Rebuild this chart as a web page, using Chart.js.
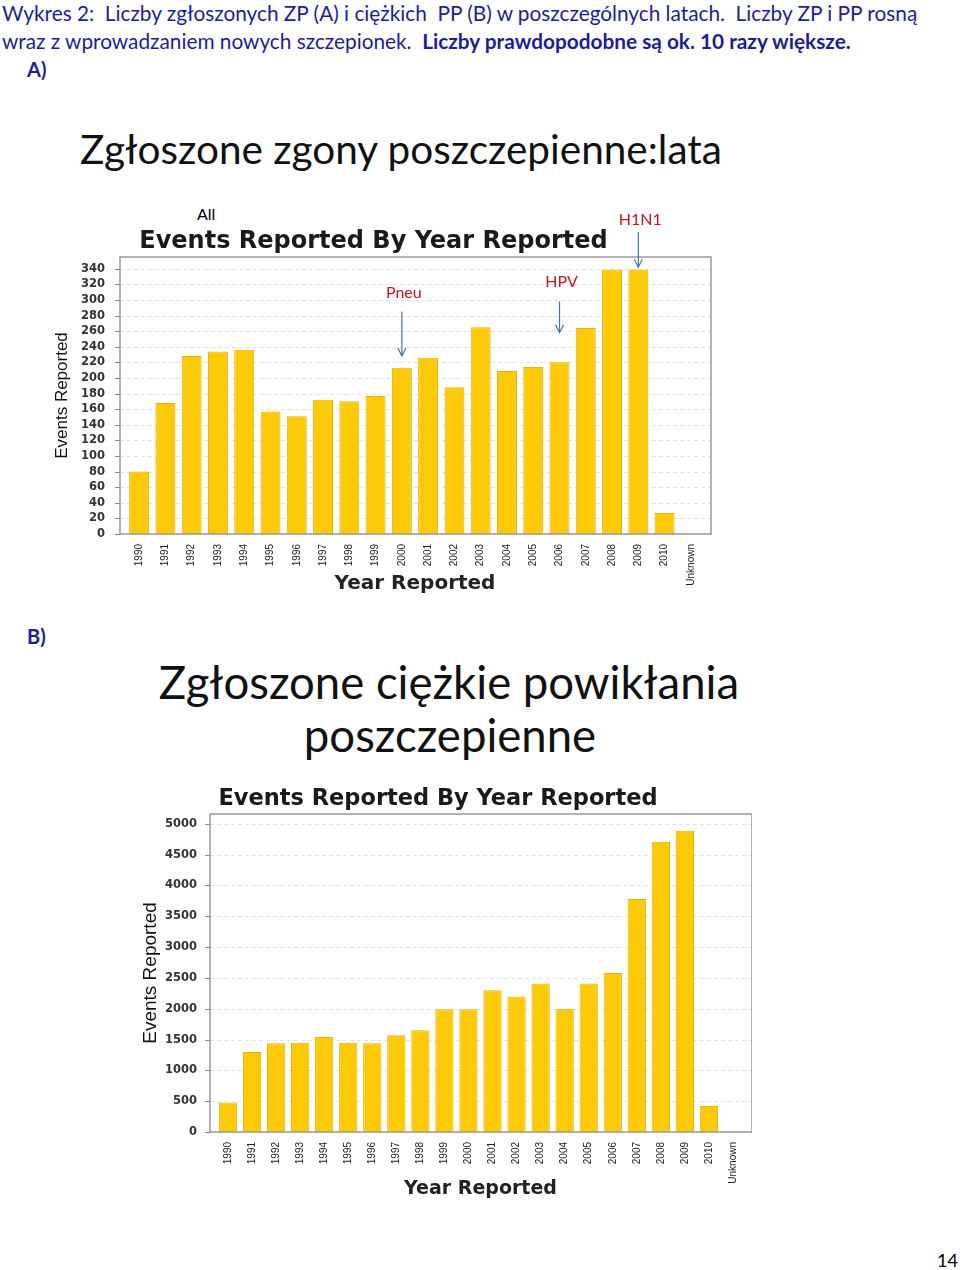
<!DOCTYPE html>
<html>
<head>
<meta charset="utf-8">
<script src="https://cdn.jsdelivr.net/npm/chart.js@4.4.1/dist/chart.umd.min.js"></script>
<style>
  body { margin: 0; background: #fff; }
  #page { position: relative; width: 960px; height: 1270px; overflow: hidden; background: #fff; }
  .hdr { position: absolute; left: 2px; font-family: Lato, "Open Sans", sans-serif; font-size: 20.8px; color: #1d1d9c; white-space: nowrap; }
  .lbl { position: absolute; font-family: Lato, sans-serif; font-weight: bold; font-size: 20px; color: #1d1d9c; }
  .big { position: absolute; font-family: Lato, "Open Sans", sans-serif; color: #111; white-space: nowrap; text-align: center; }
  .note { position: absolute; font-family: Lato, sans-serif; font-size: 16px; color: #000; }
  .box { position: absolute; }
</style>
</head>
<body>
<div id="page">
  <div class="hdr" style="top:0px">Wykres 2:&nbsp; Liczby zgłoszonych ZP (A) i ciężkich &nbsp;PP (B) w poszczególnych latach.&nbsp; Liczby ZP i PP rosną</div>
  <div class="hdr" style="top:28px">wraz z wprowadzaniem nowych szczepionek.&nbsp; <b>Liczby prawdopodobne są ok. 10 razy większe.</b></div>
  <div class="lbl" style="left:27px;top:57px">A)</div>
  <div class="big" style="left:0;width:802px;top:124px;font-size:40.5px">Zgłoszone zgony poszczepienne:lata</div>
  <div class="note" style="left:197px;top:204px">All</div>

  <div class="box" style="left:43px;top:200px;width:669px;height:400px"><canvas id="canvas"></canvas></div>

  <div class="lbl" style="left:27px;top:624px">B)</div>
  <div class="big" style="left:0;width:898px;top:654px;font-size:45.5px">Zgłoszone ciężkie powikłania</div>
  <div class="big" style="left:0;width:900px;top:707px;font-size:45.5px">poszczepienne</div>

  <div class="box" style="left:131px;top:782px;width:621px;height:422px"><canvas id="canvas2"></canvas></div>

  <div class="note" style="left:937px;top:1249px;font-size:18px">14</div>
</div>
<script>
const years = ['1990', '1991', '1992', '1993', '1994', '1995', '1996', '1997', '1998', '1999', '2000',
  '2001', '2002', '2003', '2004', '2005', '2006', '2007', '2008', '2009', '2010', 'Unknown'];

// A) zgony
const deaths = [80, 168, 228, 234, 236, 157, 151, 172, 170, 177, 213,
  226, 188, 265, 209, 214, 220, 264, 339, 339, 27, 0];
const yTicksA = [0, 20, 40, 60, 80, 100, 120, 140, 160, 180, 200, 220, 240, 260, 280, 300, 320, 340];

// B) ciezkie powiklania
const serious = [480, 1300, 1440, 1450, 1540, 1450, 1440, 1570, 1650, 1990, 1990,
  2300, 2200, 2410, 2000, 2410, 2580, 3780, 4710, 4890, 420, 0];
const yTicksB = [0, 500, 1000, 1500, 2000, 2500, 3000, 3500, 4000, 4500, 5000];

// labels with arrows on chart A (y in data units)
const notesA = [
  { text: 'Pneu', year: '2000', textY: 309, from: 285, to: 228 },
  { text: 'HPV', year: '2006', textY: 323, from: 298, to: 258 },
  { text: 'H1N1', year: '2009', textY: 402, from: 387, to: 342 }
];

const barColor = '#fdca0a';
const barEdge = '#e3b400';

// frame, dashed grid and outer tick marks like the SAS plot
const framePlugin = {
  id: 'frame',
  beforeDatasetsDraw(chart) {
    const ctx = chart.ctx;
    const a = chart.chartArea;
    const y = chart.scales.y;
    const l = a.left - 6, r = a.right + 7;
    ctx.save();
    ctx.strokeStyle = '#e2e2e2';
    ctx.lineWidth = 1;
    ctx.setLineDash([4, 3]);
    y.ticks.forEach(function (t) {
      const py = Math.round(y.getPixelForValue(t.value)) + 0.5;
      ctx.beginPath(); ctx.moveTo(l, py); ctx.lineTo(r, py); ctx.stroke();
    });
    ctx.restore();
  },
  afterDatasetsDraw(chart) {
    const ctx = chart.ctx;
    const a = chart.chartArea;
    const y = chart.scales.y;
    const l = a.left - 6, r = a.right + 7;
    ctx.save();
    ctx.strokeStyle = '#9a9a9a';
    ctx.lineWidth = 1.5;
    ctx.strokeRect(l, a.top, r - l, a.bottom - a.top);
    ctx.strokeStyle = '#888';
    ctx.lineWidth = 1;
    y.ticks.forEach(function (t) {
      const py = Math.round(y.getPixelForValue(t.value)) + 0.5;
      ctx.beginPath(); ctx.moveTo(l - 5, py); ctx.lineTo(l, py); ctx.stroke();
    });
    ctx.restore();
  }
};

const notesPlugin = {
  id: 'notes',
  afterDraw(chart) {
    const list = chart.options.plugins.notes.items || [];
    const ctx = chart.ctx;
    const x = chart.scales.x, y = chart.scales.y;
    ctx.save();
    list.forEach(function (n) {
      const px = x.getPixelForValue(years.indexOf(n.year));
      ctx.fillStyle = '#c8141e';
      ctx.font = '16px Lato, sans-serif';
      ctx.textAlign = 'center';
      ctx.textBaseline = 'middle';
      ctx.fillText(n.text, px + 2, y.getPixelForValue(n.textY));
      const y1 = y.getPixelForValue(n.from), y2 = y.getPixelForValue(n.to);
      ctx.strokeStyle = '#4d76a6';
      ctx.lineWidth = 1.2;
      ctx.beginPath();
      ctx.moveTo(px, y1); ctx.lineTo(px, y2);
      ctx.moveTo(px - 4, y2 - 8); ctx.lineTo(px, y2); ctx.lineTo(px + 4, y2 - 8);
      ctx.stroke();
    });
    ctx.restore();
  }
};

function buildChart(id, values, ticks, maxY, opts) {
  const ctx = document.getElementById(id).getContext('2d');
  return new Chart(ctx, {
    type: 'bar',
    data: {
      labels: years,
      datasets: [{
        data: values,
        backgroundColor: barColor,
        borderColor: barEdge,
        borderWidth: 1,
        barPercentage: 0.76,
        categoryPercentage: 1
      }]
    },
    options: {
      responsive: true,
      maintainAspectRatio: false,
      animation: false,
      layout: { padding: { right: opts.padRight } },
      plugins: {
        legend: { display: false },
        tooltip: { enabled: false },
        title: {
          display: true,
          text: 'Events Reported By Year Reported',
          color: '#1a1a1a',
          font: { family: 'DejaVu Sans', weight: 'bold', size: opts.titleSize, lineHeight: 1 },
          padding: { top: opts.titleTop, bottom: opts.titleBottom }
        },
        notes: { items: opts.notes }
      },
      scales: {
        x: {
          grid: { display: false },
          border: { display: false },
          ticks: {
            maxRotation: 90, minRotation: 90, autoSkip: false,
            color: '#222', padding: 2,
            font: { family: 'Liberation Sans', size: 10 }
          },
          title: {
            display: true, text: 'Year Reported', color: '#222',
            font: { family: 'DejaVu Sans', weight: 'bold', size: opts.axisSize },
            padding: { top: 0, bottom: 4 }
          },
          afterFit(scale) { scale.height = opts.xHeight; }
        },
        y: {
          min: 0, max: maxY,
          grid: { display: false },
          border: { display: false },
          afterBuildTicks(scale) { scale.ticks = ticks.map(function (v) { return { value: v }; }); },
          ticks: {
            autoSkip: false,
            color: '#333', padding: opts.tickPad,
            font: { family: 'DejaVu Sans', weight: 'bold', size: 11.5 },
            callback: function (v) { return String(v); }
          },
          title: {
            display: true, text: 'Events Reported', color: '#111',
            font: { family: 'Liberation Sans', size: opts.ySize },
            padding: { top: opts.yTitlePad, bottom: 0 }
          },
          afterFit(scale) { scale.width = opts.yWidth; }
        }
      }
    },
    plugins: [framePlugin, notesPlugin]
  });
}

buildChart('canvas', deaths, yTicksA, 355, {
  padRight: 8, titleSize: 24, titleTop: 30, titleBottom: 3, axisSize: 20, xHeight: 66,
  tickPad: 13, ySize: 17, yTitlePad: 9, yWidth: 83, notes: notesA
});
buildChart('canvas2', serious, yTicksB, 5160, {
  padRight: 7, titleSize: 22.5, titleTop: 6, titleBottom: 3.5, axisSize: 19, xHeight: 72,
  tickPad: 11, ySize: 19, yTitlePad: 8, yWidth: 85, notes: []
});
</script>
</body>
</html>
